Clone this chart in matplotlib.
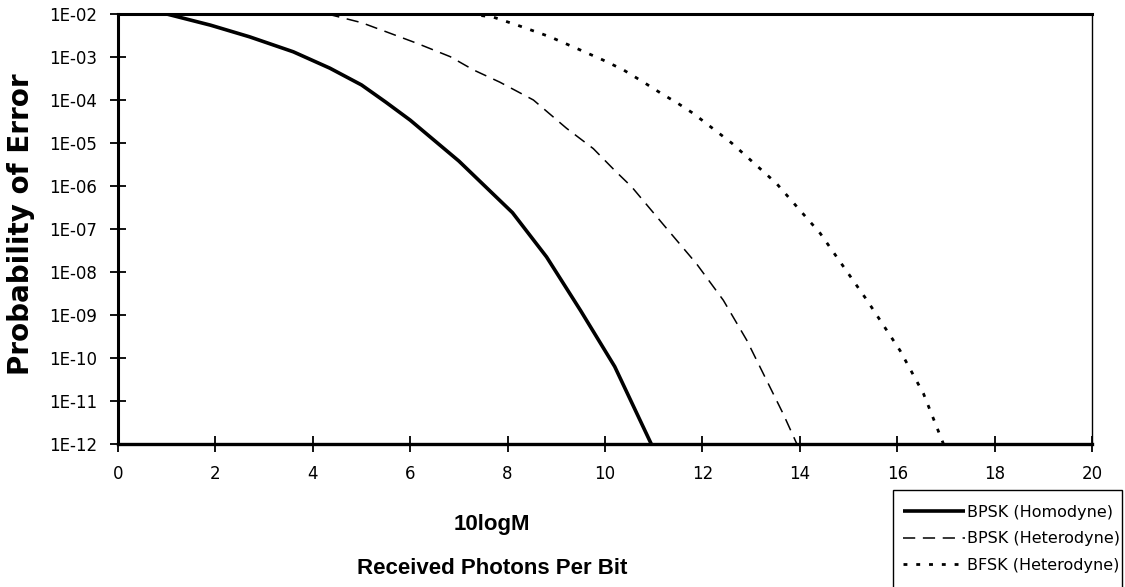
import matplotlib
matplotlib.use("Agg")
import matplotlib.pyplot as plt
from matplotlib.patches import Rectangle
from matplotlib.ticker import FixedLocator, NullLocator

plt.rcParams['font.family'] = ['DejaVu Sans']

# ---- data ----
homodyne_x = [1.0, 1.9, 2.7, 3.6, 4.35, 5.0, 5.5, 6.0, 7.0, 8.1, 8.8, 9.5, 10.2, 10.95]
homodyne_y = [1.0e-2, 5.5e-3, 2.95e-3, 1.32e-3, 5.5e-4, 2.24e-4, 8.9e-5, 3.4e-5,
              3.8e-6, 2.4e-7, 2.24e-8, 1.26e-9, 6.3e-11, 1.0e-12]

bpsk_het_x = [4.3, 5.0, 5.55, 6.13, 6.82, 7.3, 7.84, 8.53, 9.21, 9.76, 10.2, 10.55,
              11.2, 11.88, 12.43, 12.91, 13.32, 13.66, 13.94]
bpsk_het_y = [1.0e-2, 6.3e-3, 3.7e-3, 2.1e-3, 1.02e-3, 5.0e-4, 2.6e-4, 1.0e-4, 2.2e-5,
              7.4e-6, 2.3e-6, 9.5e-7, 1.26e-7, 1.55e-8, 2.2e-9, 2.6e-10, 3.0e-11,
              5.0e-12, 1.0e-12]

bfsk_het_x = [7.2, 7.7, 8.2, 8.87, 9.42, 9.96, 10.38, 10.79, 11.16, 11.5, 11.81, 12.6,
              13.52, 14.42, 15.38, 16.06, 16.54, 16.95]
bfsk_het_y = [1.0e-2, 8.5e-3, 5.5e-3, 2.95e-3, 1.58e-3, 8.5e-4, 5.0e-4, 2.6e-4, 1.41e-4,
              8.3e-5, 4.9e-5, 1.0e-5, 1.15e-6, 7.9e-8, 2.2e-9, 1.48e-10, 1.48e-11, 1.0e-12]

series_labels = ["BPSK (Homodyne)", "BPSK (Heterodyne)", "BFSK (Heterodyne)"]
x_ticks = [0, 2, 4, 6, 8, 10, 12, 14, 16, 18, 20]
y_ticks = [1e-2, 1e-3, 1e-4, 1e-5, 1e-6, 1e-7, 1e-8, 1e-9, 1e-10, 1e-11, 1e-12]
y_tick_labels = ["1E-02", "1E-03", "1E-04", "1E-05", "1E-06", "1E-07", "1E-08",
                 "1E-09", "1E-10", "1E-11", "1E-12"]
x_label = "10logM\nReceived Photons Per Bit"
y_label = "Probability of Error"

# ---- figure ----
W, H = 1125, 587
fig = plt.figure(figsize=(W/100, H/100), dpi=100)
ax = fig.add_axes([118/W, 1-444/H, (1092-118)/W, (444-14)/H])

l1, = ax.plot(homodyne_x, homodyne_y, color='black', lw=2.6, solid_capstyle='butt',
              label=series_labels[0])
l2, = ax.plot(bpsk_het_x, bpsk_het_y, color='black', lw=1.1, dashes=(8, 5),
              label=series_labels[1])
l3, = ax.plot(bfsk_het_x, bfsk_het_y, color='black', lw=2.0, dashes=(1.4, 3.2),
              label=series_labels[2])

ax.set_yscale('log')
ax.set_xlim(0, 20)
ax.set_ylim(1e-12, 1e-2)
ax.xaxis.set_major_locator(FixedLocator(x_ticks))
ax.set_xticklabels([str(v) for v in x_ticks])
ax.yaxis.set_major_locator(FixedLocator(y_ticks))
ax.yaxis.set_minor_locator(NullLocator())
ax.set_yticklabels(y_tick_labels)

ax.tick_params(axis='both', which='major', direction='inout', length=12, width=1.3,
               labelsize=12, colors='black')
ax.tick_params(axis='y', pad=9)
ax.tick_params(axis='x', pad=9)

for side, lw in [('left', 2.2), ('bottom', 2.4), ('top', 2.2), ('right', 1.0)]:
    ax.spines[side].set_linewidth(lw)
    ax.spines[side].set_color('black')

ax.set_ylabel(y_label, fontsize=20, fontweight='bold')
ax.yaxis.label.set_va('center')
ax.yaxis.set_label_coords((21-118)/974, (444-224)/430)

ax.set_xlabel(x_label, fontsize=16, fontweight='bold', linespacing=2.42,
              family='Liberation Sans')
ax.xaxis.set_label_coords((492-118)/974, (444-514)/430)

# legend (frame drawn separately so it runs off the bottom edge like the reference)
leg = fig.legend(handles=[l1, l2, l3], loc='upper left',
                 bbox_to_anchor=(903/W, 1-505/H), frameon=False,
                 fontsize=11.5, handlelength=3.9, handletextpad=0.1,
                 borderpad=0, labelspacing=0.72, borderaxespad=0)
fig.patches.append(Rectangle((893/W, -0.02), (1122-893)/W, 0.02 + (587-490)/H,
                             transform=fig.transFigure, facecolor='white',
                             edgecolor='black', lw=1.0, zorder=0))

fig.savefig('out.png', dpi=100)
